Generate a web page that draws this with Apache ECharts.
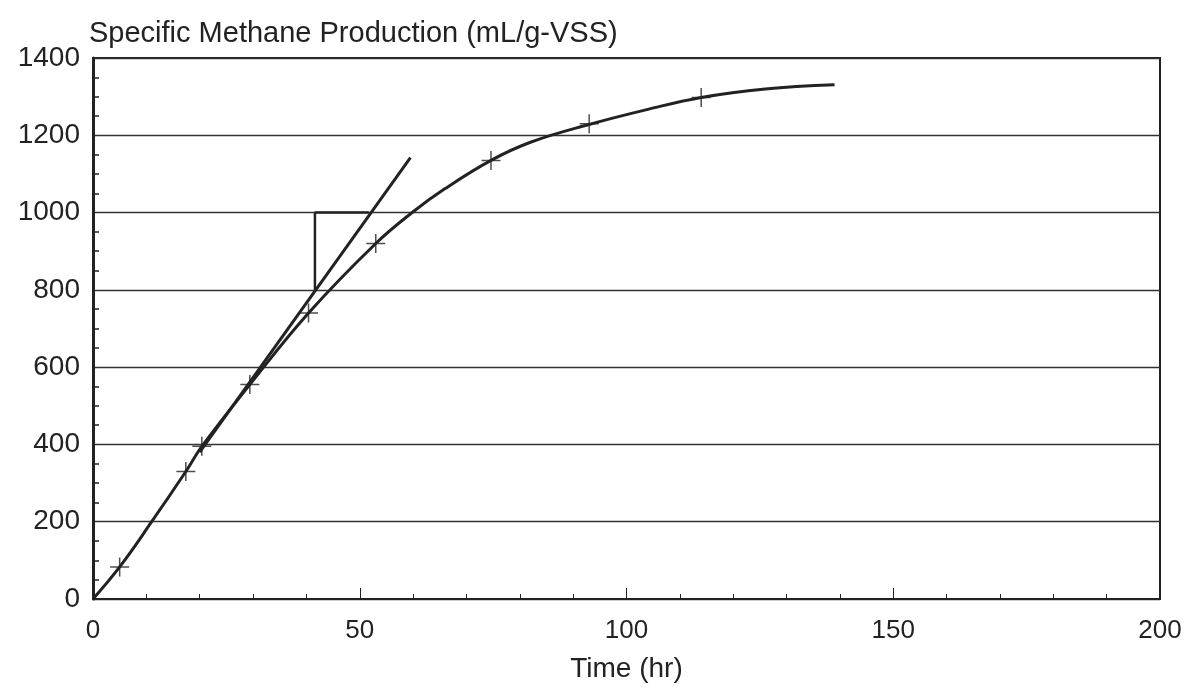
<!DOCTYPE html>
<html>
<head>
<meta charset="utf-8">
<script src="https://cdn.jsdelivr.net/npm/echarts@6/dist/echarts.min.js"></script>
<style>
  html, body { margin: 0; padding: 0; background: #fff; }
  #main { width: 1185px; height: 688px; }
</style>
</head>
<body>
<div id="main"></div>
<script>
// measured points (crosses)
const measTime = [5, 17.4, 20.4, 29.4, 40.4, 53, 74.6, 93, 114];
const measCH4 = [83, 330, 395, 555, 740, 920, 1135, 1230, 1298];

// fitted curve
const curveTime = [0, 5, 11, 17.4, 20.4, 29.4, 40.4, 53, 60, 66, 74.6, 82, 93, 104, 114, 126, 139];
const curveCH4 = [0, 83, 200, 330, 395, 555, 740, 920, 1002, 1062, 1135, 1182, 1228, 1267, 1298, 1320, 1331];

// initial-rate tangent and slope triangle
const tangentTime = [20, 59.5];
const tangentCH4 = [380, 1142];
const triTime = [41.6, 41.6, 51.7];
const triCH4 = [800, 1000, 1000];

const pairs = (xs, ys) => xs.map((x, i) => [x, ys[i]]);

const ink = '#222';
const font = 'Liberation Sans';
const chart = echarts.init(document.getElementById('main'));
chart.setOption({
  animation: false,
  title: {
    text: 'Specific Methane Production (mL/g-VSS)',
    left: 89,
    top: 19,
    padding: 0,
    textStyle: { fontFamily: font, fontSize: 29, fontWeight: 'normal', color: ink }
  },
  grid: {
    left: 93, right: 25, top: 58, bottom: 88,
    show: true, borderColor: ink, borderWidth: 2
  },
  xAxis: {
    type: 'value',
    min: 0, max: 200, interval: 50,
    name: 'Time (hr)',
    nameLocation: 'middle',
    nameGap: 56,
    nameTextStyle: { fontFamily: font, fontSize: 28, color: ink },
    axisLine: { lineStyle: { color: ink, width: 2 } },
    axisTick: { inside: true, length: 11, lineStyle: { color: ink, width: 1 } },
    minorTick: { show: true, splitNumber: 5, length: 5, lineStyle: { color: ink, width: 1 } },
    splitLine: { show: false },
    axisLabel: { fontFamily: font, fontSize: 26, color: ink, margin: 19 }
  },
  yAxis: {
    type: 'value',
    min: 0, max: 1400, interval: 200,
    axisLine: { show: true, lineStyle: { color: ink, width: 3 } },
    axisTick: { show: false, inside: true },
    minorTick: { show: true, splitNumber: 4, length: 6, lineStyle: { color: ink, width: 1.5 } },
    splitLine: { show: true, lineStyle: { color: '#333', width: 1.3 } },
    axisLabel: { fontFamily: font, fontSize: 28, color: ink, margin: 13, formatter: v => String(v) }
  },
  series: [
    {
      name: 'curve',
      type: 'line',
      smooth: 0.4,
      showSymbol: false,
      lineStyle: { color: ink, width: 3 },
      data: pairs(curveTime, curveCH4)
    },
    {
      name: 'tangent',
      type: 'line',
      showSymbol: false,
      lineStyle: { color: ink, width: 3 },
      data: pairs(tangentTime, tangentCH4)
    },
    {
      name: 'triangle',
      type: 'line',
      showSymbol: false,
      lineStyle: { color: ink, width: 2.5 },
      data: pairs(triTime, triCH4)
    },
    {
      name: 'measured',
      type: 'scatter',
      symbol: 'path://M5,0L5,10M0,5L10,5',
      symbolSize: 19,
      itemStyle: { color: 'rgba(0,0,0,0)', borderColor: ink, borderWidth: 1.5 },
      data: pairs(measTime, measCH4)
    }
  ]
});
</script>
</body>
</html>
